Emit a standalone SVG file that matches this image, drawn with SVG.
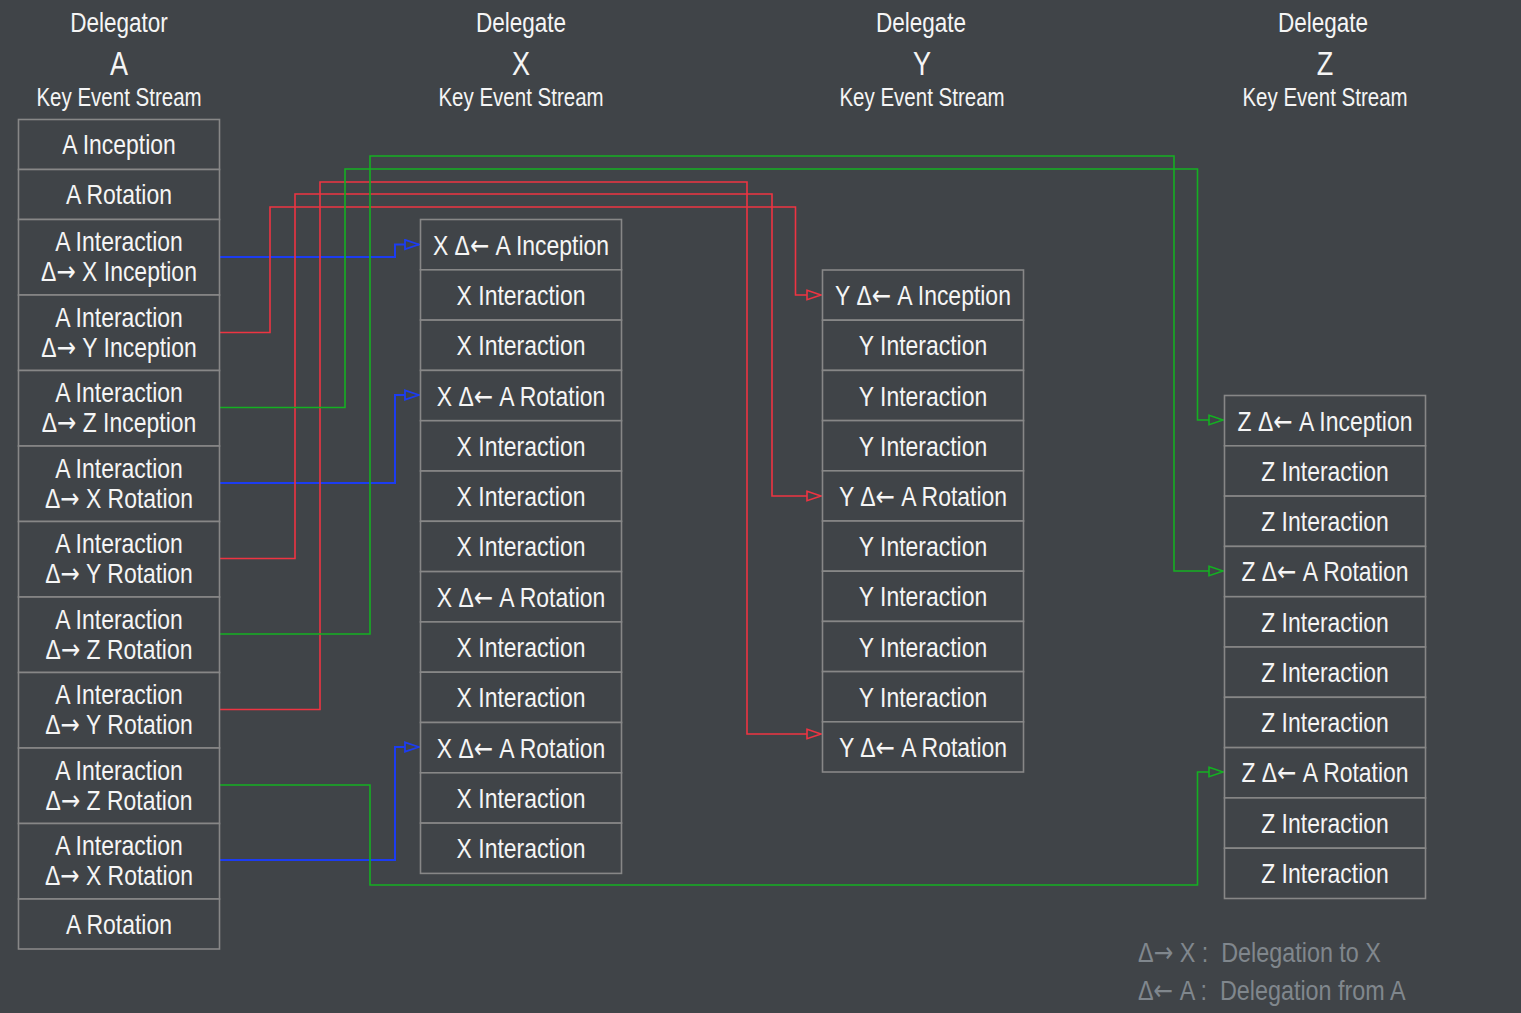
<svg xmlns="http://www.w3.org/2000/svg" width="1521" height="1013" viewBox="0 0 1521 1013">
<defs>
<style>
.bg{fill:#404448}
.box{fill:#404448;stroke:#878787;stroke-width:1.6}
text{font-family:"Liberation Sans",Arial,sans-serif;fill:#f5f5f5;text-anchor:middle}
.ar{font-family:"DejaVu Sans",sans-serif}
.t{font-size:28px}
.h{font-size:25px}
.hd{font-size:27.5px}
.big{font-size:33px}
.leg{font-size:28.5px;fill:#80878d;text-anchor:start}
.c{fill:none;stroke-width:1.6;stroke-linejoin:miter}
.blue{stroke:#1c3cf2;stroke-width:2}
.red{stroke:#ee3442}
.green{stroke:#14b022}
</style>
<marker id="mb" markerUnits="userSpaceOnUse" markerWidth="16" markerHeight="12" refX="14" refY="5" orient="auto" viewBox="-1 0 16 10"><path d="M0,0.3 L14,5 L0,9.7 Z" fill="#404448" stroke="#1c3cf2" stroke-width="1.8"/></marker>
<marker id="mr" markerUnits="userSpaceOnUse" markerWidth="16" markerHeight="12" refX="14" refY="5" orient="auto" viewBox="-1 0 16 10"><path d="M0,0.3 L14,5 L0,9.7 Z" fill="#404448" stroke="#ee3442" stroke-width="1.6"/></marker>
<marker id="mg" markerUnits="userSpaceOnUse" markerWidth="16" markerHeight="12" refX="14" refY="5" orient="auto" viewBox="-1 0 16 10"><path d="M0,0.3 L14,5 L0,9.7 Z" fill="#404448" stroke="#14b022" stroke-width="1.6"/></marker>
</defs>
<rect class="bg" x="0" y="0" width="1521" height="1013"/>

<g id="headers">
<text class="hd" transform="translate(119,32) scale(0.82,1)">Delegator</text>
<text class="big" transform="translate(119,75) scale(0.82,1)">A</text>
<text class="h" transform="translate(119,106) scale(0.82,1)">Key Event Stream</text>
<text class="hd" transform="translate(521,32) scale(0.82,1)">Delegate</text>
<text class="big" transform="translate(521,75) scale(0.82,1)">X</text>
<text class="h" transform="translate(521,106) scale(0.82,1)">Key Event Stream</text>
<text class="hd" transform="translate(921,32) scale(0.82,1)">Delegate</text>
<text class="big" transform="translate(922,75) scale(0.82,1)">Y</text>
<text class="h" transform="translate(922,106) scale(0.82,1)">Key Event Stream</text>
<text class="hd" transform="translate(1323,32) scale(0.82,1)">Delegate</text>
<text class="big" transform="translate(1325,75) scale(0.82,1)">Z</text>
<text class="h" transform="translate(1325,106) scale(0.82,1)">Key Event Stream</text>
</g>

<g id="connectors">
<path class="c blue" marker-end="url(#mb)" d="M219,257 H395 V244.5 H419"/>
<path class="c blue" marker-end="url(#mb)" d="M219,483 H395 V395 H419"/>
<path class="c blue" marker-end="url(#mb)" d="M219,860 H395 V747 H419"/>
<path class="c red" marker-end="url(#mr)" d="M219,332.5 H270 V207 H795.5 V295 H821"/>
<path class="c red" marker-end="url(#mr)" d="M219,558.5 H295 V194 H772 V496 H821"/>
<path class="c red" marker-end="url(#mr)" d="M219,709.5 H320 V182 H747 V734 H821"/>
<path class="c green" marker-end="url(#mg)" d="M219,407.5 H345 V169 H1197.5 V420 H1223"/>
<path class="c green" marker-end="url(#mg)" d="M219,634 H370 V156 H1174 V571 H1223"/>
<path class="c green" marker-end="url(#mg)" d="M219,785 H370 V885 H1197.5 V772 H1223"/>
</g>

<g id="streamA">
<g id="a1"><rect class="box" x="18.5" y="119.5" width="201" height="50"/><text class="t" transform="translate(119,154) scale(0.82,1)">A Inception</text></g>
<g id="a2"><rect class="box" x="18.5" y="169.5" width="201" height="50"/><text class="t" transform="translate(119,204) scale(0.82,1)">A Rotation</text></g>
<g id="a3"><rect class="box" x="18.5" y="219.5" width="201" height="75.5"/><text class="t" transform="translate(119,251) scale(0.82,1)">A Interaction</text><text class="t" transform="translate(119,281) scale(0.82,1)">Δ<tspan class="ar">→</tspan> X Inception</text></g>
<g id="a4"><rect class="box" x="18.5" y="295" width="201" height="75.5"/><text class="t" transform="translate(119,326.5) scale(0.82,1)">A Interaction</text><text class="t" transform="translate(119,356.5) scale(0.82,1)">Δ<tspan class="ar">→</tspan> Y Inception</text></g>
<g id="a5"><rect class="box" x="18.5" y="370.5" width="201" height="75.5"/><text class="t" transform="translate(119,402) scale(0.82,1)">A Interaction</text><text class="t" transform="translate(119,432) scale(0.82,1)">Δ<tspan class="ar">→</tspan> Z Inception</text></g>
<g id="a6"><rect class="box" x="18.5" y="446" width="201" height="75.5"/><text class="t" transform="translate(119,477.5) scale(0.82,1)">A Interaction</text><text class="t" transform="translate(119,507.5) scale(0.82,1)">Δ<tspan class="ar">→</tspan> X Rotation</text></g>
<g id="a7"><rect class="box" x="18.5" y="521.5" width="201" height="75.5"/><text class="t" transform="translate(119,553) scale(0.82,1)">A Interaction</text><text class="t" transform="translate(119,583) scale(0.82,1)">Δ<tspan class="ar">→</tspan> Y Rotation</text></g>
<g id="a8"><rect class="box" x="18.5" y="597" width="201" height="75.5"/><text class="t" transform="translate(119,628.5) scale(0.82,1)">A Interaction</text><text class="t" transform="translate(119,658.5) scale(0.82,1)">Δ<tspan class="ar">→</tspan> Z Rotation</text></g>
<g id="a9"><rect class="box" x="18.5" y="672.5" width="201" height="75.5"/><text class="t" transform="translate(119,704) scale(0.82,1)">A Interaction</text><text class="t" transform="translate(119,734) scale(0.82,1)">Δ<tspan class="ar">→</tspan> Y Rotation</text></g>
<g id="a10"><rect class="box" x="18.5" y="748" width="201" height="75.5"/><text class="t" transform="translate(119,779.5) scale(0.82,1)">A Interaction</text><text class="t" transform="translate(119,809.5) scale(0.82,1)">Δ<tspan class="ar">→</tspan> Z Rotation</text></g>
<g id="a11"><rect class="box" x="18.5" y="823.5" width="201" height="75.5"/><text class="t" transform="translate(119,855) scale(0.82,1)">A Interaction</text><text class="t" transform="translate(119,885) scale(0.82,1)">Δ<tspan class="ar">→</tspan> X Rotation</text></g>
<g id="a12"><rect class="box" x="18.5" y="899" width="201" height="50"/><text class="t" transform="translate(119,933.5) scale(0.82,1)">A Rotation</text></g>
</g>

<g id="streamX">
<g id="x1"><rect class="box" x="420.5" y="219.5" width="201" height="50.3"/><text class="t" transform="translate(521,254.5) scale(0.82,1)">X Δ<tspan class="ar">←</tspan> A Inception</text></g>
<g id="x2"><rect class="box" x="420.5" y="269.8" width="201" height="50.3"/><text class="t" transform="translate(521,305) scale(0.82,1)">X Interaction</text></g>
<g id="x3"><rect class="box" x="420.5" y="320.1" width="201" height="50.3"/><text class="t" transform="translate(521,355) scale(0.82,1)">X Interaction</text></g>
<g id="x4"><rect class="box" x="420.5" y="370.4" width="201" height="50.3"/><text class="t" transform="translate(521,405.5) scale(0.82,1)">X Δ<tspan class="ar">←</tspan> A Rotation</text></g>
<g id="x5"><rect class="box" x="420.5" y="420.7" width="201" height="50.3"/><text class="t" transform="translate(521,455.5) scale(0.82,1)">X Interaction</text></g>
<g id="x6"><rect class="box" x="420.5" y="471" width="201" height="50.3"/><text class="t" transform="translate(521,506) scale(0.82,1)">X Interaction</text></g>
<g id="x7"><rect class="box" x="420.5" y="521.3" width="201" height="50.3"/><text class="t" transform="translate(521,556) scale(0.82,1)">X Interaction</text></g>
<g id="x8"><rect class="box" x="420.5" y="571.6" width="201" height="50.3"/><text class="t" transform="translate(521,606.5) scale(0.82,1)">X Δ<tspan class="ar">←</tspan> A Rotation</text></g>
<g id="x9"><rect class="box" x="420.5" y="621.9" width="201" height="50.3"/><text class="t" transform="translate(521,656.5) scale(0.82,1)">X Interaction</text></g>
<g id="x10"><rect class="box" x="420.5" y="672.2" width="201" height="50.3"/><text class="t" transform="translate(521,707) scale(0.82,1)">X Interaction</text></g>
<g id="x11"><rect class="box" x="420.5" y="722.5" width="201" height="50.3"/><text class="t" transform="translate(521,757.5) scale(0.82,1)">X Δ<tspan class="ar">←</tspan> A Rotation</text></g>
<g id="x12"><rect class="box" x="420.5" y="772.8" width="201" height="50.3"/><text class="t" transform="translate(521,807.5) scale(0.82,1)">X Interaction</text></g>
<g id="x13"><rect class="box" x="420.5" y="823.1" width="201" height="50.3"/><text class="t" transform="translate(521,858) scale(0.82,1)">X Interaction</text></g>
</g>

<g id="streamY">
<g id="y1"><rect class="box" x="822.5" y="270" width="201" height="50.2"/><text class="t" transform="translate(923,305) scale(0.82,1)">Y Δ<tspan class="ar">←</tspan> A Inception</text></g>
<g id="y2"><rect class="box" x="822.5" y="320.2" width="201" height="50.2"/><text class="t" transform="translate(923,355) scale(0.82,1)">Y Interaction</text></g>
<g id="y3"><rect class="box" x="822.5" y="370.4" width="201" height="50.2"/><text class="t" transform="translate(923,405.5) scale(0.82,1)">Y Interaction</text></g>
<g id="y4"><rect class="box" x="822.5" y="420.6" width="201" height="50.2"/><text class="t" transform="translate(923,455.5) scale(0.82,1)">Y Interaction</text></g>
<g id="y5"><rect class="box" x="822.5" y="470.8" width="201" height="50.2"/><text class="t" transform="translate(923,506) scale(0.82,1)">Y Δ<tspan class="ar">←</tspan> A Rotation</text></g>
<g id="y6"><rect class="box" x="822.5" y="521" width="201" height="50.2"/><text class="t" transform="translate(923,556) scale(0.82,1)">Y Interaction</text></g>
<g id="y7"><rect class="box" x="822.5" y="571.2" width="201" height="50.2"/><text class="t" transform="translate(923,606) scale(0.82,1)">Y Interaction</text></g>
<g id="y8"><rect class="box" x="822.5" y="621.4" width="201" height="50.2"/><text class="t" transform="translate(923,656.5) scale(0.82,1)">Y Interaction</text></g>
<g id="y9"><rect class="box" x="822.5" y="671.6" width="201" height="50.2"/><text class="t" transform="translate(923,707) scale(0.82,1)">Y Interaction</text></g>
<g id="y10"><rect class="box" x="822.5" y="721.8" width="201" height="50.2"/><text class="t" transform="translate(923,757) scale(0.82,1)">Y Δ<tspan class="ar">←</tspan> A Rotation</text></g>
</g>

<g id="streamZ">
<g id="z1"><rect class="box" x="1224.5" y="395.5" width="201" height="50.3"/><text class="t" transform="translate(1325,430.5) scale(0.82,1)">Z Δ<tspan class="ar">←</tspan> A Inception</text></g>
<g id="z2"><rect class="box" x="1224.5" y="445.8" width="201" height="50.3"/><text class="t" transform="translate(1325,480.5) scale(0.82,1)">Z Interaction</text></g>
<g id="z3"><rect class="box" x="1224.5" y="496.1" width="201" height="50.3"/><text class="t" transform="translate(1325,531) scale(0.82,1)">Z Interaction</text></g>
<g id="z4"><rect class="box" x="1224.5" y="546.4" width="201" height="50.3"/><text class="t" transform="translate(1325,581) scale(0.82,1)">Z Δ<tspan class="ar">←</tspan> A Rotation</text></g>
<g id="z5"><rect class="box" x="1224.5" y="596.7" width="201" height="50.3"/><text class="t" transform="translate(1325,631.5) scale(0.82,1)">Z Interaction</text></g>
<g id="z6"><rect class="box" x="1224.5" y="647" width="201" height="50.3"/><text class="t" transform="translate(1325,682) scale(0.82,1)">Z Interaction</text></g>
<g id="z7"><rect class="box" x="1224.5" y="697.3" width="201" height="50.3"/><text class="t" transform="translate(1325,732) scale(0.82,1)">Z Interaction</text></g>
<g id="z8"><rect class="box" x="1224.5" y="747.6" width="201" height="50.3"/><text class="t" transform="translate(1325,782) scale(0.82,1)">Z Δ<tspan class="ar">←</tspan> A Rotation</text></g>
<g id="z9"><rect class="box" x="1224.5" y="797.9" width="201" height="50.3"/><text class="t" transform="translate(1325,832.5) scale(0.82,1)">Z Interaction</text></g>
<g id="z10"><rect class="box" x="1224.5" y="848.2" width="201" height="50.3"/><text class="t" transform="translate(1325,883) scale(0.82,1)">Z Interaction</text></g>
</g>

<g id="legend">
<text class="leg" transform="translate(1138,962) scale(0.82,1)">Δ<tspan class="ar">→</tspan> X :&#160; Delegation to X</text>
<text class="leg" transform="translate(1138,1000) scale(0.82,1)">Δ<tspan class="ar">←</tspan> A :&#160; Delegation from A</text>
</g>
</svg>
